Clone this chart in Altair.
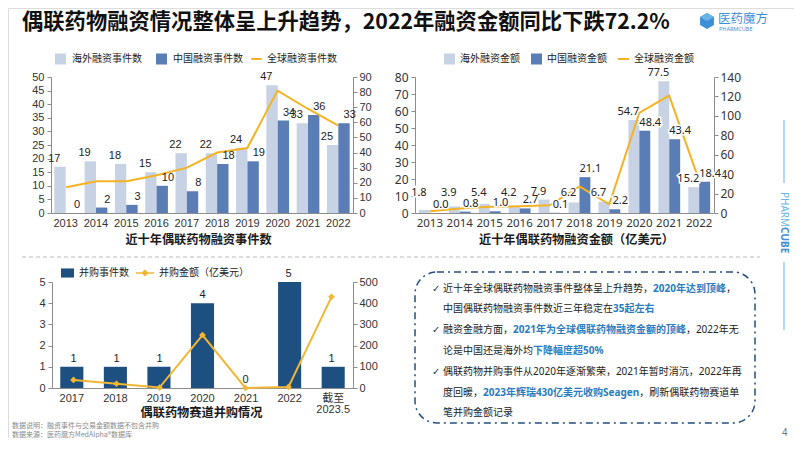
import altair as alt
import pandas as pd

# ---------------- data ----------------
years = ["2013", "2014", "2015", "2016", "2017", "2018", "2019", "2020", "2021", "2022"]
overseas_events = [17, 19, 18, 15, 22, 22, 24, 47, 33, 25]
china_events = [0, 2, 3, 10, 8, 18, 19, 34, 36, 33]
global_events = [17, 21, 21, 25, 30, 40, 43, 81, 69, 58]

overseas_amount = [1.8, 3.9, 5.4, 4.2, 7.9, 6.2, 6.7, 54.7, 77.5, 15.2]
china_amount = [0.0, 0.8, 1.0, 2.7, 0.1, 21.1, 2.2, 48.4, 43.4, 18.4]
global_amount = [1.8, 4.7, 6.4, 6.9, 8.0, 27.3, 8.9, 103.1, 120.9, 33.6]

ma_periods = ["2017", "2018", "2019", "2020", "2021", "2022", "截至2023.5"]
ma_counts = [1, 1, 1, 4, 0, 5, 1]
ma_amounts = [38, 20, 2, 250, 0, 5, 430]

series1 = ["海外融资事件数", "中国融资事件数"]
series1_line = "全球融资事件数"
series2 = ["海外融资金额", "中国融资金额"]
series2_line = "全球融资金额"
series3_bar = "并购事件数"
series3_line = "并购金额（亿美元）"

title_text = "偶联药物融资情况整体呈上升趋势，2022年融资金额同比下跌72.2%"
chart1_title = "近十年偶联药物融资事件数"
chart2_title = "近十年偶联药物融资金额（亿美元）"
chart3_title = "偶联药物赛道并购情况"
footer_lines = ["数据说明：融资事件与交易金额数据不包含并购", "数据来源：医药魔方MedAlpha®数据库"]
page_number = "4"

box_lines = [
    (True, [("近十年全球偶联药物融资事件整体呈上升趋势，", False), ("2020年达到顶峰", True), ("，", False)]),
    (False, [("中国偶联药物融资事件数近三年稳定在", False), ("35起左右", True)]),
    (True, [("融资金融方面，", False), ("2021年为全球偶联药物融资金额的顶峰", True), ("，2022年无", False)]),
    (False, [("论是中国还是海外均", False), ("下降幅度超50%", True)]),
    (True, [("偶联药物并购事件从2020年逐渐繁荣，2021年暂时消沉，2022年再", False)]),
    (False, [("度回暖，", False), ("2023年辉瑞430亿美元收购Seagen", True), ("，刷新偶联药物赛道单", False)]),
    (False, [("笔并购金额记录", False)]),
]

# ---------------- style ----------------
W, H = 786, 430
FONT_LAT = "'Liberation Sans', 'Noto Sans CJK SC', sans-serif"
FONT_NOTO = "'Noto Sans', 'Noto Sans CJK SC', sans-serif"
FONT_CJK = "'Noto Sans CJK SC', sans-serif"
LIGHT = "#c7d2e5"
DARK = "#5b7db6"
ORANGE = "#f5b324"
NAVY = "#1d4f80"
GOLD = "#f1b634"
AXIS = "#8c8c8c"
BLUE_TXT = "#2b7cc0"
LOGO = "#3d8fd8"
LOGO_LIGHT = "#6ab4e6"

one = pd.DataFrame({"k": [0]})


def yaxis(orient, offset, values, font, size):
    return alt.Axis(orient=orient, offset=offset, values=values, title=None, grid=False,
                    domainColor=AXIS, tickColor=AXIS, tickSize=4, domainWidth=1, tickWidth=1,
                    labelPadding=3 if orient == "left" else 2, labelFont=font, labelFontSize=size,
                    labelColor="#333", labelOverlap=False)


def xaxis(offset, font, size, **kw):
    return alt.Axis(orient="bottom", offset=offset, title=None, labelAngle=0, ticks=False, tickSize=0,
                    domainColor=AXIS, domainWidth=1, labelFont=font, labelFontSize=size,
                    labelColor="#333", labelPadding=4, labelOverlap=False, grid=False, **kw)


def legend(x, y, symbol, size, offset=4, colpad=12, **kw):
    return alt.Legend(orient="none", legendX=x, legendY=y, direction="horizontal", title=None,
                      symbolType=symbol, symbolSize=size, labelFont=FONT_CJK, labelFontSize=10,
                      labelColor="#222", labelOffset=offset, columnPadding=colpad, padding=0,
                      labelLimit=200, **kw)


def label(text, x, y, size, weight="normal", color="#222", font=FONT_CJK, align="left", angle=0):
    return alt.Chart(one).mark_text(text=text, align=align, baseline="middle", fontSize=size,
                                    fontWeight=weight, color=color, font=font, angle=angle).encode(
        x=alt.value(x), y=alt.value(y))


layers = []

# ---------------- chart 1: financing events ----------------
df1_bar = pd.DataFrame({"year": years * 2,
                        "series": [series1[0]] * len(years) + [series1[1]] * len(years),
                        "value": overseas_events + china_events})
df1_line = pd.DataFrame({"year": years, "series": series1_line, "value": global_events})
x1 = alt.Scale(domain=years, range=[43, 345], paddingInner=0.25, paddingOuter=0.11)
xo1 = alt.Scale(domain=series1, paddingInner=0, paddingOuter=0)
y1L = alt.Scale(domain=[0, 50], range=[205, 69], nice=False)
y1R = alt.Scale(domain=[0, 90], range=[205, 69], nice=False)

layers.append(alt.Chart(df1_bar).mark_bar().encode(
    x=alt.X("year:N", scale=x1, axis=xaxis(-225, FONT_LAT, 11)),
    xOffset=alt.XOffset("series:N", scale=xo1),
    y=alt.Y("value:Q", scale=y1L, axis=yaxis("left", -43, list(range(0, 55, 5)), FONT_LAT, 11)),
    color=alt.Color("series:N", scale=alt.Scale(domain=series1, range=[LIGHT, DARK]),
                    legend=legend(46, 44.5, "square", 121, offset=5, colpad=13)),
))
layers.append(alt.Chart(df1_line).mark_line(strokeWidth=2).encode(
    x=alt.X("year:N", scale=x1, axis=None),
    y=alt.Y("value:Q", scale=y1R, axis=yaxis("right", -441, list(range(0, 100, 10)), FONT_LAT, 11)),
    color=alt.Color("series:N", scale=alt.Scale(domain=[series1_line], range=[ORANGE]),
                    legend=legend(242, 44.5, "stroke", 110, symbolStrokeWidth=2)),
))
layers.append(alt.Chart(df1_bar).mark_text(baseline="bottom", dy=-3, font=FONT_LAT, fontSize=11,
                                           color="#222").encode(
    x=alt.X("year:N", scale=x1, axis=None),
    xOffset=alt.XOffset("series:N", scale=xo1),
    y=alt.Y("value:Q", scale=y1L, axis=None),
    text=alt.Text("value:Q", format="d"),
))

# ---------------- chart 2: financing amount ----------------
df2_bar = pd.DataFrame({"year": years * 2,
                        "series": [series2[0]] * len(years) + [series2[1]] * len(years),
                        "value": overseas_amount + china_amount})
df2_line = pd.DataFrame({"year": years, "series": series2_line, "value": global_amount})
x2 = alt.Scale(domain=years, range=[407, 706], paddingInner=0.27, paddingOuter=0.13)
xo2 = alt.Scale(domain=series2, paddingInner=0, paddingOuter=0)
y2L = alt.Scale(domain=[0, 80], range=[205, 69], nice=False)
y2R = alt.Scale(domain=[0, 140], range=[205, 69], nice=False)

layers.append(alt.Chart(df2_bar).mark_bar().encode(
    x=alt.X("year:N", scale=x2, axis=xaxis(-225, FONT_NOTO, 11.5)),
    xOffset=alt.XOffset("series:N", scale=xo2),
    y=alt.Y("value:Q", scale=y2L, axis=yaxis("left", -407, list(range(0, 90, 10)), FONT_NOTO, 12)),
    color=alt.Color("series:N", scale=alt.Scale(domain=series2, range=[LIGHT, DARK]),
                    legend=legend(435, 44.5, "square", 121, offset=4, colpad=10)),
))
layers.append(alt.Chart(df2_line).mark_line(strokeWidth=2).encode(
    x=alt.X("year:N", scale=x2, axis=None),
    y=alt.Y("value:Q", scale=y2R, axis=yaxis("right", -80, list(range(0, 160, 20)), FONT_NOTO, 12)),
    color=alt.Color("series:N", scale=alt.Scale(domain=[series2_line], range=[ORANGE]),
                    legend=legend(609, 44.5, "stroke", 121, symbolStrokeWidth=2)),
))
label_pos_expr = "datum.series == '%s' ? max(datum.value, 7) : datum.value" % series2[0]
for halo in (True, False):
    props = dict(baseline="bottom", dy=-3, font=FONT_NOTO, fontSize=11, color="#222")
    if halo:
        props.update(stroke="white", strokeWidth=3)
    layers.append(alt.Chart(df2_bar).mark_text(**props).transform_calculate(
        label_y=label_pos_expr
    ).encode(
        x=alt.X("year:N", scale=x2, axis=None),
        xOffset=alt.XOffset("series:N", scale=xo2),
        y=alt.Y("label_y:Q", scale=y2L, axis=None),
        text=alt.Text("value:Q", format=".1f"),
    ))

# ---------------- chart 3: M&A ----------------
df3 = pd.DataFrame({"period": ma_periods, "count": ma_counts, "amount": ma_amounts,
                    "s_bar": series3_bar, "s_line": series3_line})
x3 = alt.Scale(domain=ma_periods, range=[44, 345], paddingInner=0.47, paddingOuter=0.19)
y3L = alt.Scale(domain=[0, 5], range=[380, 274], nice=False)
y3R = alt.Scale(domain=[0, 500], range=[380, 274], nice=False)

layers.append(alt.Chart(df3).mark_bar().encode(
    x=alt.X("period:N", scale=x3, axis=xaxis(-50, FONT_LAT, 11, labelLineHeight=11,
                                               labelExpr="datum.value == '截至2023.5' ? ['截至', '2023.5'] : datum.value")),
    y=alt.Y("count:Q", scale=y3L, axis=yaxis("left", -44, list(range(0, 6)), FONT_LAT, 11)),
    color=alt.Color("s_bar:N", scale=alt.Scale(domain=[series3_bar], range=[NAVY]),
                    legend=legend(52, 257.5, "M-1,-0.7H1V0.7H-1Z", 169, offset=4)),
))
layers.append(alt.Chart(df3).mark_line(strokeWidth=2, color=GOLD).encode(
    x=alt.X("period:N", scale=x3, axis=None),
    y=alt.Y("amount:Q", scale=y3R, axis=yaxis("right", -441, list(range(0, 600, 100)), FONT_LAT, 11)),
))
layers.append(alt.Chart(df3).mark_point(shape="diamond", filled=True, size=45, opacity=1).encode(
    x=alt.X("period:N", scale=x3, axis=None),
    y=alt.Y("amount:Q", scale=y3R, axis=None),
    color=alt.Color("s_line:N", scale=alt.Scale(domain=[series3_line], range=[GOLD]),
                    legend=legend(127, 255, "M-1,-0.08H1V0.08H-1Z M0,-0.4L0.4,0L0,0.4L-0.4,0Z", 324,
                                  offset=4)),
))
layers.append(alt.Chart(df3).mark_text(baseline="bottom", dy=-3, font=FONT_LAT, fontSize=11,
                                       color="#222").encode(
    x=alt.X("period:N", scale=x3, axis=None),
    y=alt.Y("count:Q", scale=y3L, axis=None),
    text=alt.Text("count:Q", format="d"),
))

# ---------------- text box ----------------
def text_width(s, size, bold=False):
    w = 0.0
    for ch in s:
        if ord(ch) >= 0x2E80:
            w += 1.0
        elif ch.isdigit():
            w += 0.572
        elif ch == "%":
            w += 0.85
        elif ch == ".":
            w += 0.27
        elif ch.isupper():
            w += 0.62
        else:
            w += 0.6 if bold else 0.57
    return w * size


BOX_FS = 10
line_ys = [281, 301, 322, 343, 364, 385, 405]
rows = []
checks = []
for (has_check, segs), yy in zip(box_lines, line_ys):
    xx = 435
    if has_check:
        checks.append({"x": 424, "y": yy, "t": "✓"})
    for txt, hl in segs:
        rows.append({"x": xx, "y": yy, "t": txt, "hl": hl})
        xx += text_width(txt, BOX_FS, hl)
df_box = pd.DataFrame(rows)
df_chk = pd.DataFrame(checks)

layers.append(alt.Chart(one).mark_rect(fillOpacity=0, stroke="#234f7e", strokeWidth=1.5,
                                       strokeDash=[7, 4, 2, 4], cornerRadius=22).encode(
    x=alt.value(407), x2=alt.value(747), y=alt.value(264), y2=alt.value(415)))
layers.append(alt.Chart(df_chk).mark_text(align="left", baseline="middle", fontSize=10,
                                          font="'DejaVu Sans'", color="#333").encode(
    x=alt.X("x:Q", scale=None), y=alt.Y("y:Q", scale=None), text="t:N"))
layers.append(alt.Chart(df_box[~df_box.hl]).mark_text(align="left", baseline="middle", fontSize=BOX_FS,
                                                      font=FONT_NOTO, color="#222").encode(
    x=alt.X("x:Q", scale=None), y=alt.Y("y:Q", scale=None), text="t:N"))
layers.append(alt.Chart(df_box[df_box.hl]).mark_text(align="left", baseline="middle", fontSize=BOX_FS,
                                                     font=FONT_NOTO, fontWeight="bold",
                                                     color=BLUE_TXT).encode(
    x=alt.X("x:Q", scale=None), y=alt.Y("y:Q", scale=None), text="t:N"))

# ---------------- decorations / titles ----------------
layers.append(alt.Chart(one).mark_rule(color="#d2d2d2", strokeWidth=1.5, strokeDash=[4, 3]).encode(
    x=alt.value(14), x2=alt.value(752), y=alt.value(249)))
layers.append(label(title_text, 14, 15, 21.3, weight="bold", color="#111"))
layers.append(label(chart1_title, 190.5, 232, 12.2, weight="bold", color="#1a1a1a", align="center"))
layers.append(label(chart2_title, 568.5, 232, 12.2, weight="bold", color="#1a1a1a", align="center"))
layers.append(label(chart3_title, 193.5, 405, 12.2, weight="bold", color="#1a1a1a", align="center"))

# logo
layers.append(alt.Chart(one).mark_point(shape="M0,-1L0.87,-0.5L0.87,0.5L0,1L-0.87,0.5L-0.87,-0.5Z",
                                        size=256, filled=True, opacity=1, color=LOGO).encode(
    x=alt.value(699), y=alt.value(13)))
layers.append(alt.Chart(one).mark_point(shape="M0,-1L0.87,-0.5L0,0L-0.87,-0.5Z",
                                        size=256, filled=True, opacity=1, color=LOGO_LIGHT).encode(
    x=alt.value(699), y=alt.value(13)))
layers.append(label("医药魔方", 710, 11, 12.5, color=LOGO))
layers.append(label("PHARMCUBE", 711, 21, 5.5, color=LOGO, font=FONT_NOTO))

# side brand
layers.append(alt.Chart(one).mark_rule(color=LOGO_LIGHT, strokeWidth=1).encode(
    x=alt.value(776), y=alt.value(112), y2=alt.value(175)))
layers.append(alt.Chart(one).mark_rule(color=LOGO_LIGHT, strokeWidth=1).encode(
    x=alt.value(776), y=alt.value(254), y2=alt.value(322)))
layers.append(label("PHARM", 776, 184, 10, color=LOGO_LIGHT, font=FONT_NOTO, angle=90))
layers.append(label("CUBE", 776, 219, 10, weight="bold", color=LOGO, font=FONT_NOTO, angle=90))

# footer
layers.append(label(footer_lines[0], 4, 418, 7, color="#8a8a8a"))
layers.append(label(footer_lines[1], 4, 426.5, 7, color="#8a8a8a"))
layers.append(label(page_number, 774, 425, 10, color="#777", font=FONT_LAT))

chart = alt.layer(*layers).resolve_scale(
    x="independent", y="independent", color="independent", xOffset="independent"
).resolve_axis(x="independent", y="independent").resolve_legend(color="independent").properties(
    width=W, height=H, padding=0, autosize=alt.AutoSizeParams(type="none")
).configure_view(stroke="#a8a8a8", strokeWidth=1.5).configure(font=FONT_LAT)

chart.save("out.html", embed_options={"renderer": "svg", "actions": False})
